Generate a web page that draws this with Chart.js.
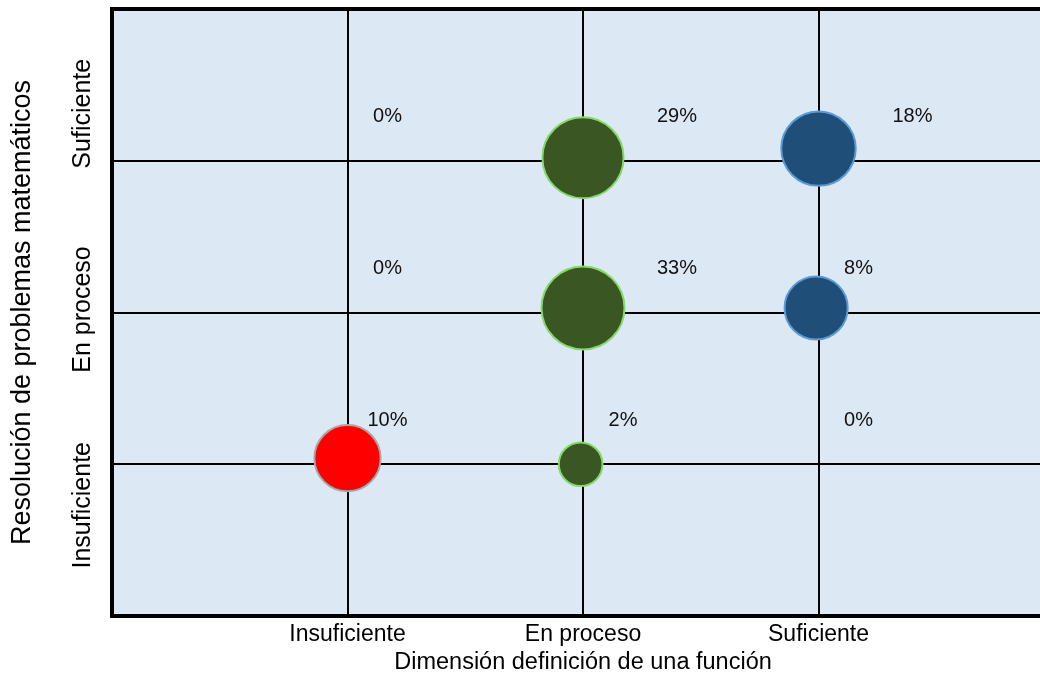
<!DOCTYPE html>
<html lang="es">
<head>
<meta charset="utf-8">
<title>Resolución de problemas matemáticos vs. definición de una función</title>
<script src="https://cdn.jsdelivr.net/npm/chart.js@4.4.1/dist/chart.umd.min.js"></script>
<style>
  html, body { margin: 0; padding: 0; background: #fff; overflow: hidden; }
  #wrap { width: 1056px; height: 677px; }
</style>
</head>
<body>
<div id="wrap"><canvas id="bubbleChart" width="1056" height="677"></canvas></div>
<script>
(function () {
  'use strict';

  /* ----------------------------------------------------------- */
  /* DATA                                                         */
  /* ----------------------------------------------------------- */
  // achievement levels, same on both axes (value 1..3)
  const levels = ['Insuficiente', 'En proceso', 'Suficiente'];

  // one series per column of the x axis; pct = share of students
  const insufX = [1, 1, 1];
  const insufY = [3, 2, 1.04];
  const insufPct = [0, 0, 10];

  const procX = [2, 2, 1.99];
  const procY = [3.02, 2.03, 1];
  const procPct = [29, 33, 2];

  const sufX = [3, 2.99, 3];
  const sufY = [3.08, 2.03, 1];
  const sufPct = [18, 8, 0];

  const FONT = "'Liberation Sans', Arial, sans-serif";

  // bubble radius in px grows with the percentage (no bubble for 0%)
  const bubbleRadius = pct => pct > 0 ? 17 + 7 * Math.log(pct) : 0;

  function points(xs, ys, pcts) {
    return xs.map((x, i) => ({ x: x, y: ys[i], r: bubbleRadius(pcts[i]), pct: pcts[i] }));
  }

  /* ----------------------------------------------------------- */
  /* PLUGINS                                                      */
  /* ----------------------------------------------------------- */
  // light blue plot area + heavy frame on top, left and bottom
  const plotFrame = {
    id: 'plotFrame',
    beforeDraw(chart) {
      const { ctx, chartArea: a } = chart;
      ctx.save();
      ctx.fillStyle = '#dce9f5';
      ctx.fillRect(a.left, a.top, a.right - a.left, a.bottom - a.top);
      ctx.restore();
    },
    afterDatasetsDraw(chart) {
      const { ctx, chartArea: a } = chart;
      ctx.save();
      ctx.strokeStyle = '#000';
      ctx.lineWidth = 4;
      ctx.beginPath();
      ctx.moveTo(a.right, a.top);
      ctx.lineTo(a.left, a.top);
      ctx.lineTo(a.left, a.bottom);
      ctx.lineTo(a.right, a.bottom);
      ctx.stroke();
      ctx.restore();
    }
  };

  // rotated level names along the y axis
  const yLevelShift = [41, -3, -47];
  const yLevelLabels = {
    id: 'yLevelLabels',
    afterDraw(chart) {
      const { ctx } = chart;
      const yScale = chart.scales.y;
      ctx.save();
      ctx.font = '25px ' + FONT;
      ctx.fillStyle = '#000';
      ctx.textAlign = 'center';
      ctx.textBaseline = 'alphabetic';
      levels.forEach((name, i) => {
        const py = yScale.getPixelForValue(i + 1) + yLevelShift[i];
        ctx.save();
        ctx.translate(90, py);
        ctx.rotate(-Math.PI / 2);
        ctx.fillText(name, 0, 0);
        ctx.restore();
      });
      ctx.restore();
    }
  };

  // percentage labels, above-right of each grid crossing
  const pctLabels = {
    id: 'pctLabels',
    afterDatasetsDraw(chart) {
      const { ctx } = chart;
      const xs = chart.scales.x, ys = chart.scales.y;
      ctx.save();
      ctx.font = '20px ' + FONT;
      ctx.fillStyle = '#111';
      ctx.textAlign = 'center';
      ctx.textBaseline = 'middle';
      chart.data.datasets.forEach(ds => {
        ds.data.forEach(p => {
          const gx = xs.getPixelForValue(Math.round(p.x));
          const gy = ys.getPixelForValue(Math.round(p.y));
          const dx = p.r > 35 ? 94 : 40;
          ctx.fillText(p.pct + '%', gx + dx, gy - 44);
        });
      });
      ctx.restore();
    }
  };

  /* ----------------------------------------------------------- */
  /* CHART                                                        */
  /* ----------------------------------------------------------- */
  const onlyLevels = scale => { scale.ticks = [{ value: 1 }, { value: 2 }, { value: 3 }]; };

  new Chart(document.getElementById('bubbleChart').getContext('2d'), {
    type: 'bubble',
    data: {
      datasets: [{
        label: levels[0],
        data: points(insufX, insufY, insufPct),
        backgroundColor: '#ff0000',
        borderColor: '#a6a6a6',
        borderWidth: 2
      }, {
        label: levels[1],
        data: points(procX, procY, procPct),
        backgroundColor: '#3a5623',
        borderColor: '#86d86a',
        borderWidth: 2
      }, {
        label: levels[2],
        data: points(sufX, sufY, sufPct),
        backgroundColor: '#1f4e79',
        borderColor: '#5b9bd5',
        borderWidth: 2
      }]
    },
    options: {
      responsive: false,
      animation: false,
      layout: { autoPadding: false, padding: { left: 0, top: 9, right: 2, bottom: 0 } },
      scales: {
        x: {
          type: 'linear',
          min: 0,
          max: 4,
          afterBuildTicks: onlyLevels,
          afterFit: s => { s.height = 61; },
          border: { display: false },
          grid: { color: '#000', lineWidth: 2, drawTicks: false },
          ticks: {
            padding: 5,
            color: '#000',
            font: { family: FONT, size: 23 },
            callback: v => levels[v - 1]
          },
          title: {
            display: true,
            text: 'Dimensión definición de una función',
            color: '#000',
            font: { family: FONT, size: 23.5 },
            padding: { top: 0, bottom: 0 }
          }
        },
        y: {
          type: 'linear',
          min: 0,
          max: 4,
          afterBuildTicks: onlyLevels,
          afterFit: s => { s.width = 112; },
          border: { display: false },
          grid: { color: '#000', lineWidth: 2, drawTicks: false },
          ticks: { display: false },
          title: {
            display: true,
            text: 'Resolución de problemas matemáticos',
            color: '#000',
            font: { family: FONT, size: 27 },
            padding: { top: 6, bottom: 0 }
          }
        }
      },
      plugins: {
        legend: { display: false },
        tooltip: { enabled: false }
      }
    },
    plugins: [plotFrame, pctLabels, yLevelLabels]
  });
})();
</script>
</body>
</html>
